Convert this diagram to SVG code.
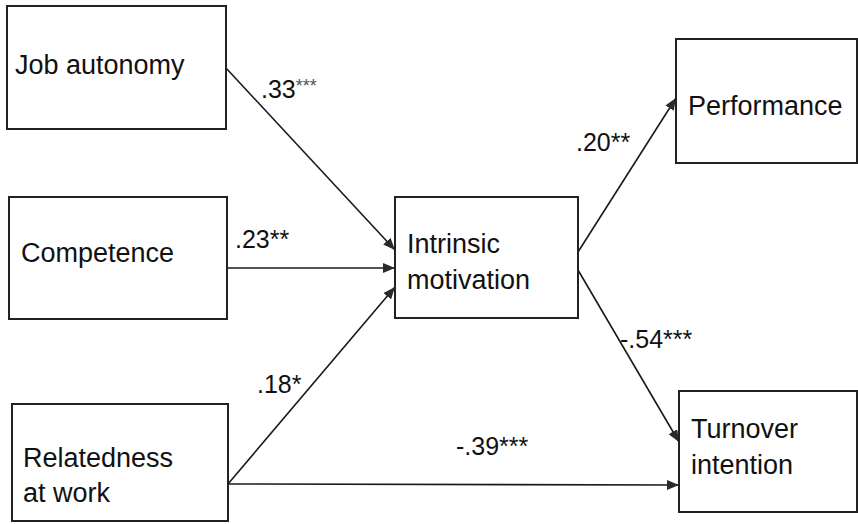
<svg xmlns="http://www.w3.org/2000/svg" width="858" height="524" viewBox="0 0 858 524">
<style>
.box{fill:#fff;stroke:#222;stroke-width:2}
.t{font-family:"Liberation Sans",Arial,sans-serif;font-size:27px;fill:#111}
.lbl{font-family:"Liberation Sans",Arial,sans-serif;font-size:25px;fill:#111}
.c{stroke:#1a1a1a;stroke-width:1.6;fill:none;marker-end:url(#ah)}
</style>
<defs>
<marker id="ah" viewBox="0 0 12 10" refX="12" refY="5" markerWidth="12" markerHeight="10" markerUnits="userSpaceOnUse" orient="auto">
<path d="M0,0 L12,5 L0,10 Z" fill="#2a2a2a"/>
</marker>
</defs>
<rect width="858" height="524" fill="#fff"/>
<g id="connectors">
<line class="c" x1="226" y1="68" x2="395" y2="250"/>
<line class="c" x1="227" y1="268" x2="395" y2="268"/>
<line class="c" x1="228" y1="484" x2="395" y2="287"/>
<line class="c" x1="578" y1="252" x2="676" y2="98"/>
<line class="c" x1="578" y1="270" x2="679" y2="442"/>
<line class="c" x1="228" y1="484" x2="679" y2="485"/>
</g>
<g id="job-autonomy"><rect class="box" x="7" y="6" width="219" height="123"/><text class="t" x="15" y="74">Job autonomy</text></g>
<g id="competence"><rect class="box" x="9" y="197" width="218" height="122"/><text class="t" x="21" y="262">Competence</text></g>
<g id="relatedness"><rect class="box" x="12" y="404" width="216" height="117"/><text class="t" x="23" y="467">Relatedness</text><text class="t" x="23" y="502">at work</text></g>
<g id="intrinsic"><rect class="box" x="395" y="197" width="183" height="121"/><text class="t" x="407" y="253">Intrinsic</text><text class="t" x="407" y="289">motivation</text></g>
<g id="performance"><rect class="box" x="676" y="39" width="181" height="124"/><text class="t" x="688" y="115">Performance</text></g>
<g id="turnover"><rect class="box" x="679" y="391" width="178" height="121"/><text class="t" x="691" y="438">Turnover</text><text class="t" x="691" y="474">intention</text></g>
<g id="labels">
<text class="lbl" x="261" y="98">.33<tspan font-size="18" fill="#4a5a52" dy="-6">***</tspan></text>
<text class="lbl" x="235" y="248">.23**</text>
<text class="lbl" x="257" y="393">.18*</text>
<text class="lbl" x="576" y="151">.20**</text>
<text class="lbl" x="620" y="348">-.54***</text>
<text class="lbl" x="456" y="455">-.39***</text>
</g>
</svg>
